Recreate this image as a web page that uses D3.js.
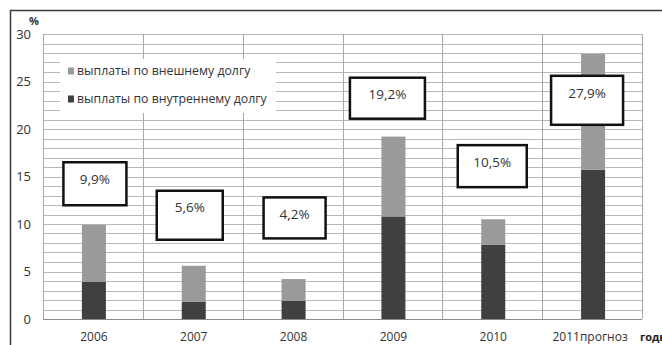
<!DOCTYPE html>
<html>
<head>
<meta charset="utf-8">
<script src="https://cdn.jsdelivr.net/npm/d3@7"></script>
<style>
  html, body { margin: 0; padding: 0; background: #fff; }
  svg { display: block; }
  text { font-family: "Open Sans", "Noto Sans", sans-serif; }
</style>
</head>
<body>
<svg id="chart" width="662" height="345"></svg>
<script>
// Debt payments as share of budget, %
const years = ["2006", "2007", "2008", "2009", "2010", "2011прогноз"];
const internalDebt = [3.9, 1.8, 1.9, 10.8, 7.8, 15.7];
const externalDebt = [6.0, 3.8, 2.3, 8.4, 2.7, 12.2];
const totals = [9.9, 5.6, 4.2, 19.2, 10.5, 27.9];
const totalLabels = ["9,9%", "5,6%", "4,2%", "19,2%", "10,5%", "27,9%"];
const yTicks = [0, 5, 10, 15, 20, 25, 30];
const seriesNames = ["выплаты по внешнему долгу", "выплаты по внутреннему долгу"];

// callout boxes: horizontal offset (px) from category centre, top (in %), width, height (px)
const calloutLayout = [
  { dx: 2, top: 16.5, w: 63, h: 43 },
  { dx: -3, top: 13.5, w: 66, h: 49 },
  { dx: 2, top: 12.8, w: 62, h: 41 },
  { dx: -5, top: 25.4, w: 75, h: 41 },
  { dx: 0, top: 18.3, w: 69, h: 42 },
  { dx: -5, top: 25.6, w: 72, h: 49 }
];

const colors = { external: "#9a9a9a", internal: "#404040" };

const svg = d3.select("#chart");
const plot = { left: 43, right: 642, top: 34, bottom: 319 };

const x = d3.scaleBand().domain(years).range([plot.left, plot.right]).paddingInner(0).paddingOuter(0);
const y = d3.scaleLinear().domain([0, 30]).range([plot.bottom, plot.top]);

// outer frame
svg.append("path")
  .attr("d", "M10.5,345 L10.5,10.5 L662,10.5")
  .attr("fill", "none").attr("stroke", "#3a3a3a").attr("stroke-width", 1.5);

// horizontal grid every 1 %
const g = svg.append("g");
g.selectAll("line.h").data(d3.range(1, 31)).join("line")
  .attr("x1", plot.left).attr("x2", plot.right)
  .attr("y1", d => Math.round(y(d)) + 0.5).attr("y2", d => Math.round(y(d)) + 0.5)
  .attr("stroke", "#b8b8b8").attr("stroke-width", 1);

// vertical grid at category boundaries
const bounds = years.map(d => x(d)).concat([plot.right]);
g.selectAll("line.v").data(bounds).join("line")
  .attr("x1", d => Math.round(d) + 0.5).attr("x2", d => Math.round(d) + 0.5)
  .attr("y1", plot.top).attr("y2", plot.bottom)
  .attr("stroke", "#a8a8a8").attr("stroke-width", 1);

// baseline
svg.append("line")
  .attr("x1", plot.left).attr("x2", plot.right)
  .attr("y1", plot.bottom + 0.5).attr("y2", plot.bottom + 0.5)
  .attr("stroke", "#8a8a8a");

// legend background blanks out the grid
const legend = svg.append("g");
legend.append("rect")
  .attr("x", 60).attr("y", 59).attr("width", 216).attr("height", 54)
  .attr("fill", "#fff");
const legendItems = [
  { name: seriesNames[0], color: colors.external, yy: 71 },
  { name: seriesNames[1], color: colors.internal, yy: 99 }
];
legendItems.forEach(it => {
  legend.append("rect").attr("x", 68).attr("y", it.yy - 3.5).attr("width", 6).attr("height", 7).attr("fill", it.color);
  legend.append("text").attr("x", 77).attr("y", it.yy).attr("dy", "0.35em")
    .attr("font-size", 12.3).attr("fill", "#333").text(it.name);
});

// stacked bars
const barW = 24;
const stacks = years.map((yr, i) => ({ yr, internal: internalDebt[i], external: externalDebt[i] }));
const series = d3.stack().keys(["internal", "external"])(stacks);
svg.append("g").selectAll("g").data(series).join("g")
  .attr("fill", d => colors[d.key])
  .selectAll("rect").data(d => d).join("rect")
  .attr("x", d => x(d.data.yr) + x.bandwidth() / 2 - barW / 2 + 1)
  .attr("width", barW)
  .attr("y", d => y(d[1]))
  .attr("height", d => y(d[0]) - y(d[1]));

// callout boxes with totals
const callouts = svg.append("g");
years.forEach((yr, i) => {
  const L = calloutLayout[i];
  const cx = x(yr) + x.bandwidth() / 2 + L.dx;
  const top = y(L.top);
  callouts.append("rect")
    .attr("x", cx - L.w / 2).attr("y", top).attr("width", L.w).attr("height", L.h)
    .attr("fill", "#fff").attr("stroke", "#111").attr("stroke-width", 2.5);
  callouts.append("text")
    .attr("x", cx).attr("y", top + 17).attr("dy", "0.35em")
    .attr("text-anchor", "middle").attr("font-size", 13.5).attr("fill", "#333")
    .text(totalLabels[i]);
});

// y axis labels
const yAxis = svg.append("g");
yAxis.selectAll("text").data(yTicks).join("text")
  .attr("x", 31).attr("y", d => y(d)).attr("dy", "0.35em")
  .attr("text-anchor", "end").attr("font-size", 13).attr("fill", "#333")
  .text(d => d);
svg.append("text").attr("x", 34).attr("y", 21).attr("dy", "0.35em")
  .attr("text-anchor", "middle").attr("font-size", 11).attr("font-weight", "bold").attr("fill", "#333").text("%");

// x axis labels
svg.append("g").selectAll("text").data(years).join("text")
  .attr("x", d => x(d) + x.bandwidth() / 2 - (d.length > 4 ? 3 : 0) + 1)
  .attr("y", 337).attr("dy", "0.35em")
  .attr("text-anchor", "middle").attr("font-size", 12).attr("fill", "#333")
  .text(d => d);
svg.append("text").attr("x", 640).attr("y", 337).attr("dy", "0.35em")
  .attr("font-size", 11).attr("font-weight", "bold").attr("fill", "#222").text("годы");
</script>
</body>
</html>
